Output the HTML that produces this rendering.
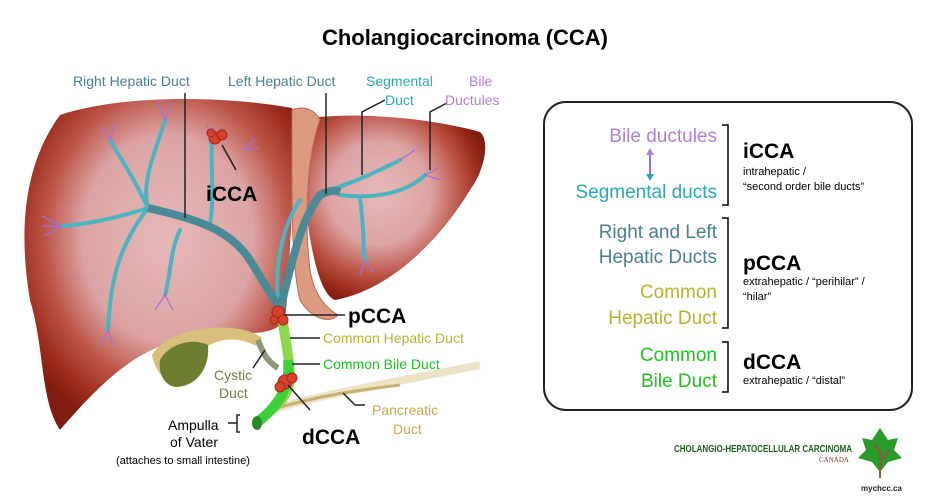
<!DOCTYPE html>
<html><head><meta charset="utf-8"><style>
body{margin:0;background:#fff;width:931px;height:500px;overflow:hidden;font-family:"Liberation Sans",Arial,sans-serif}
svg{position:absolute;left:0;top:0}
</style></head><body>
<svg width="931" height="500" viewBox="0 0 931 500" font-family="Liberation Sans, Arial, sans-serif">
<defs>
<radialGradient id="lv" cx="0.52" cy="0.42" r="0.62">
<stop offset="0" stop-color="#e6b8b8"/><stop offset="0.5" stop-color="#dca4a4"/><stop offset="0.72" stop-color="#bc5446"/><stop offset="0.9" stop-color="#9a2a1a"/><stop offset="1" stop-color="#801c10"/></radialGradient>
<radialGradient id="lv2" cx="0.42" cy="0.42" r="0.62">
<stop offset="0" stop-color="#e6b8b8"/><stop offset="0.45" stop-color="#dca4a4"/><stop offset="0.72" stop-color="#bc5446"/><stop offset="0.9" stop-color="#9a2a1a"/><stop offset="1" stop-color="#801c10"/></radialGradient>
</defs>
<text x="465" y="45" font-size="22" font-weight="bold" text-anchor="middle" fill="#000">Cholangiocarcinoma (CCA)</text>
<!-- right lobe -->
<path d="M60,115 C120,95 220,95 292,108 L300,130 C290,200 290,280 285,320 C270,340 240,330 200,335 C150,345 120,360 60,430 C40,400 45,350 30,300 C20,240 20,170 60,115 Z" fill="url(#lv)"/>
<!-- left lobe -->
<path d="M310,118 C360,112 430,118 480,132 C490,140 485,170 470,190 C440,240 390,290 335,300 C320,295 310,250 305,200 C303,160 300,130 310,118 Z" fill="url(#lv2)"/>
<!-- ligament -->
<path d="M292,110 C305,105 315,110 320,120 C305,160 305,230 310,270 C315,300 330,310 338,315 C330,325 310,318 300,300 C290,260 292,180 292,110Z" fill="#dc9a80" stroke="#b86a55" stroke-width="1"/>
<!-- gallbladder -->
<path d="M152,355 C170,325 240,320 262,338 L256,346 C230,332 205,342 190,362 C178,385 158,385 152,355Z" fill="#d8c07a"/>
<path d="M160,360 C170,342 195,338 208,345 C210,370 195,387 175,387 C165,385 158,375 160,360Z" fill="#6e7e30"/>
<path d="M258,340 C262,350 265,360 278,368" stroke="#8a9a78" stroke-width="6" fill="none"/>
<!-- pancreatic duct -->
<path d="M270,410 C320,395 380,385 480,365" stroke="#e8dcb8" stroke-width="8" fill="none" opacity="0.8"/>
<path d="M270,410 C320,395 360,390 400,385" stroke="#c8b070" stroke-width="3" fill="none"/>
<!-- ducts -->
<g fill="none" stroke="#4ab4c0" stroke-width="4" stroke-linecap="round">
<path d="M148,208 C110,220 80,225 62,226"/><path d="M148,208 C130,170 115,150 110,140"/>
<path d="M148,208 C140,180 160,140 165,120"/><path d="M148,208 C115,250 110,290 108,330"/>
<path d="M180,230 C170,250 170,280 165,295"/><path d="M210,225 C215,195 210,160 212,140"/>
<path d="M330,190 C360,180 380,170 400,160"/><path d="M340,195 C380,200 410,190 425,175"/><path d="M360,200 C365,230 362,250 365,260"/>
<path d="M300,200 C280,230 275,270 278,300"/>
</g>
<path d="M148,208 C200,220 230,230 250,260 C265,285 275,300 280,310" stroke="#4a8a96" stroke-width="8" fill="none"/>
<path d="M280,310 C290,270 300,220 320,195 C330,190 335,190 340,192" stroke="#4a8a96" stroke-width="8" fill="none"/>
<g stroke="#a070d8" stroke-width="1.2" fill="none">
<path d="M62,226 l-20,-10 M62,226 l-20,0 M62,226 l-18,10 M110,140 l-10,-15 M110,140 l5,-15 M165,120 l-8,-20 M165,120 l8,-18 M108,330 l-8,15 M108,330 l5,15 M165,295 l-10,15 M165,295 l8,15 M212,140 l-5,-15 M212,140 l10,-12 M400,160 l15,-10 M425,175 l15,-8 M425,175 l15,5 M365,260 l-5,15 M365,260 l8,12 M245,150 l10,-12 M245,150 l15,-2"/>
</g>
<!-- bile ducts green -->
<path d="M282,315 C285,340 290,360 290,380 C288,400 270,410 258,422" stroke="#8cd84c" stroke-width="10" fill="none"/>
<path d="M288,360 C290,380 285,400 258,422" stroke="#3ed03a" stroke-width="10" fill="none"/>
<ellipse cx="257" cy="423" rx="5" ry="7" fill="#2a8a2a"/>
<!-- tumors -->
<g fill="#d8402a" stroke="#a02818" stroke-width="1"><circle cx="215" cy="138" r="6"/><circle cx="222" cy="135" r="5"/><circle cx="211" cy="133" r="4"/>
<circle cx="278" cy="312" r="6"/><circle cx="283" cy="320" r="5"/><circle cx="274" cy="320" r="4"/>
<circle cx="285" cy="382" r="7"/><circle cx="292" cy="378" r="5"/><circle cx="280" cy="387" r="5"/></g>
<!-- leaders -->
<g stroke="#222" stroke-width="1.5" fill="none">
<path d="M185,93 L185,218"/><path d="M326,93 L326,194"/><path d="M385,100 L362,112 L362,175"/><path d="M447,103 L430,112 L430,170"/>
<path d="M222,145 L236,170"/><path d="M284,315 L345,315"/><path d="M290,338 L320,338"/><path d="M292,364 L320,364"/>
<path d="M265,350 L253,368"/><path d="M288,385 L310,410"/><path d="M343,393 L355,405 L365,405"/>
<path d="M228,423 L237,423 M240,415 L237,415 L237,432 L240,432"/></g>
<g font-size="14">
<text x="73" y="86" fill="#4a8090">Right Hepatic Duct</text>
<text x="228" y="86" fill="#4a8090">Left Hepatic Duct</text>
<text x="366" y="86" fill="#28a8b8">Segmental</text><text x="385" y="105" fill="#28a8b8">Duct</text>
<text x="469" y="86" fill="#b080d8">Bile</text><text x="445" y="105" fill="#b080d8">Ductules</text>
<text x="323" y="343" fill="#b4b430">Common Hepatic Duct</text>
<text x="323" y="369" fill="#20c020">Common Bile Duct</text>
<text x="214" y="380" fill="#708040">Cystic</text><text x="219" y="398" fill="#708040">Duct</text>
<text x="372" y="415" fill="#c8a848">Pancreatic</text><text x="393" y="434" fill="#c8a848">Duct</text>
<text x="168" y="430" fill="#000">Ampulla</text><text x="170" y="447" fill="#000">of Vater</text>
<text x="116" y="464" font-size="11" fill="#000">(attaches to small intestine)</text>
</g>
<g font-size="21" font-weight="bold" fill="#000">
<text x="206" y="201">iCCA</text><text x="348" y="323">pCCA</text><text x="302" y="444">dCCA</text></g>
<!-- box -->
<rect x="544" y="102" width="368" height="308" rx="22" fill="#fff" stroke="#222" stroke-width="2"/>
<g font-size="19" text-anchor="end">
<text x="717" y="142" fill="#b080d8">Bile ductules</text>
<text x="717" y="198" fill="#28a8b8">Segmental ducts</text>
<text x="717" y="238" fill="#4a8090">Right and Left</text><text x="717" y="263" fill="#4a8090">Hepatic Ducts</text>
<text x="717" y="298" fill="#b4b430">Common</text><text x="717" y="324" fill="#b4b430">Hepatic Duct</text>
<text x="717" y="361" fill="#20c020">Common</text><text x="717" y="387" fill="#20c020">Bile Duct</text>
</g>
<line x1="650" y1="152" x2="650" y2="176" stroke="#9a70c8" stroke-width="2"/>
<path d="M646,155 L650,148 L654,155Z" fill="#b080d8"/><path d="M646,174 L650,181 L654,174Z" fill="#28a8b8"/>
<g stroke="#000" stroke-width="1.5" fill="none">
<path d="M722,125 L728,125 L728,205 L722,205"/><path d="M722,218 L728,218 L728,328 L722,328"/><path d="M722,342 L728,342 L728,392 L722,392"/></g>
<g fill="#000"><text x="743" y="158" font-size="21" font-weight="bold">iCCA</text>
<text x="743" y="175" font-size="11">intrahepatic /</text><text x="743" y="190" font-size="11">“second order bile ducts”</text>
<text x="743" y="270" font-size="21" font-weight="bold">pCCA</text>
<text x="743" y="285" font-size="11">extrahepatic / “perihilar” /</text><text x="743" y="300" font-size="11">“hilar”</text>
<text x="743" y="369" font-size="21" font-weight="bold">dCCA</text>
<text x="743" y="384" font-size="11">extrahepatic / “distal”</text></g>
<!-- logo -->
<text x="674" y="452" font-size="10.5" font-weight="bold" fill="#1f5a1f" textLength="178" lengthAdjust="spacingAndGlyphs">CHOLANGIO-HEPATOCELLULAR CARCINOMA</text>
<text x="819" y="462" font-size="7" fill="#7a3a1a" font-family="Liberation Serif,serif">CANADA</text>
<path d="M880,428 L872,440 L862,438 L866,450 L858,458 L872,462 L880,472 L888,462 L902,458 L894,450 L898,438 L888,440Z" fill="#2a9a2a"/>
<path d="M880,478 L880,452 L874,444 M880,462 L889,450" stroke="#8a5a3a" stroke-width="2" fill="none"/>
<text x="861" y="491" font-size="8" font-weight="bold" fill="#222">mychcc.ca</text>
</svg>
</body></html>
